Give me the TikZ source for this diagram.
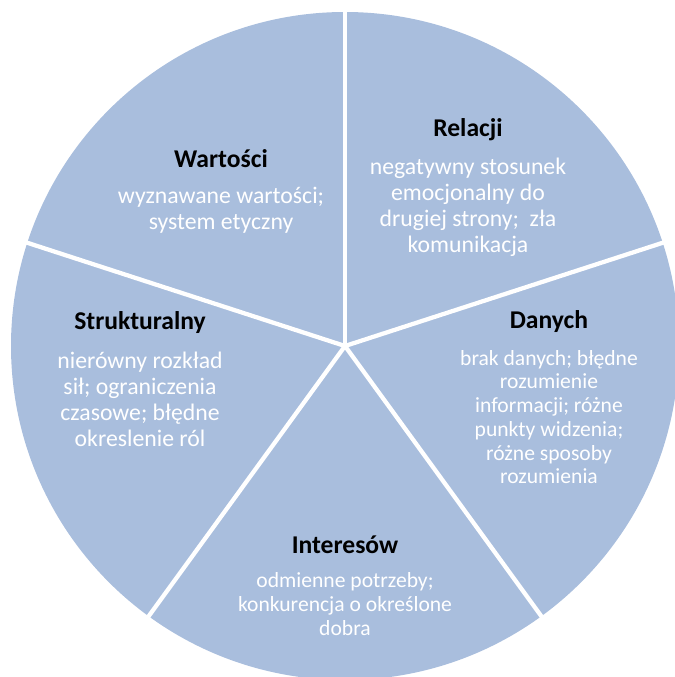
\documentclass[tikz,border=0pt]{standalone}
\usepackage{fontspec}
\setmainfont{Carlito}
\definecolor{pieblue}{RGB}{169,190,221}
\tikzset{
  headtext/.style={inner sep=0.75pt, font=\bfseries\fontsize{19.2}{22}\selectfont, text=black},
  bodytext/.style={inner sep=0.75pt, align=center, text=white, font=\fontsize{17.8}{19.5}\selectfont},
  smalltext/.style={inner sep=0.75pt, align=center, text=white, font=\fontsize{16.2}{17.8}\selectfont},
  gap/.style={draw=white, line width=3.2pt}
}
\begin{document}
\begin{tikzpicture}[x=0.75pt,y=0.75pt,yscale=-1,xscale=1]
\useasboundingbox (0,0) rectangle (674,677);

%Shape: Circle
\coordinate (mid) at (345,346);
\fill [pieblue] (mid) circle (334);

%Straight Lines
\foreach \ang in {-90,-162,126,54,-18}
  \draw [gap] (mid) -- ++(\ang:345);

% Text Node
\node [headtext] (wartosci) at (221,159) {Wartości};
\node [bodytext] (wartoscibody) at (221,210) {wyznawane wartości;\\ system etyczny};

% Text Node
\node [headtext] (relacji) at (468,130) {Relacji};
\node [bodytext] (relacjibody) at (468,207) {negatywny stosunek\\emocjonalny do\\drugiej strony;~ zła\\komunikacja};

% Text Node
\node [headtext] (struktur) at (140,323) {Strukturalny};
\node [bodytext] (strukturbody) at (140,399) {nierówny rozkład\\sił; ograniczenia\\czasowe; błędne\\okreslenie ról};

% Text Node
\node [headtext] (danych) at (549,322) {Danych};
\node [smalltext] (danychbody) at (549,417) {brak danych; błędne\\rozumienie\\informacji; różne\\punkty widzenia;\\różne sposoby\\rozumienia};

% Text Node
\node [headtext] (interes) at (345,545) {Interesów};
\node [smalltext] (interesbody) at (345,604) {odmienne potrzeby;\\konkurencja o określone\\dobra};

\end{tikzpicture}
\end{document}
